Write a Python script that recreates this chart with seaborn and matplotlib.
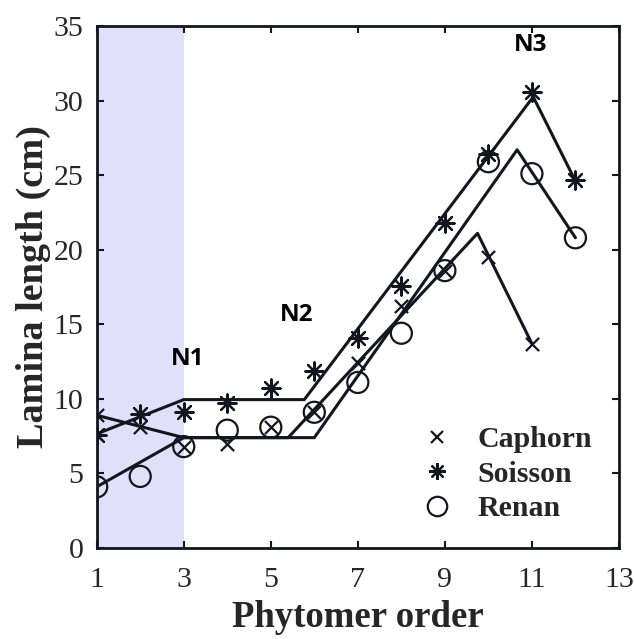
import numpy as np
import pandas as pd
import matplotlib
matplotlib.use('Agg')
import matplotlib.pyplot as plt
from matplotlib.lines import Line2D
import seaborn as sns

# phytomer ranks
phytomer = [1, 2, 3, 4, 5, 6, 7, 8, 9, 10, 11, 12]

# measured lamina lengths (cm)
caphorn = [8.9, 8.1, 6.8, 7.0, 8.1, 9.1, 12.4, 16.2, 18.6, 19.5, 13.7]
soisson = [7.6, 9.0, 9.1, 9.7, 10.7, 11.9, 14.1, 17.6, 21.8, 26.4, 30.6, 24.7]
renan = [4.1, 4.8, 6.8, 7.9, 8.1, 9.1, 11.1, 14.4, 18.6, 25.9, 25.1, 20.8]

# piecewise linear fits (breakpoints)
caphorn_fit_x = [1, 3, 5.4, 9.75, 11]
caphorn_fit_y = [8.9, 7.4, 7.4, 21.1, 13.7]
soisson_fit_x = [1, 3, 5.77, 11.03, 12]
soisson_fit_y = [7.65, 9.95, 9.95, 30.25, 24.6]
renan_fit_x = [1, 3, 6.0, 10.66, 12]
renan_fit_y = [4.1, 7.4, 7.4, 26.7, 20.8]

# phase labels
phase_labels = ['N1', 'N2', 'N3']
phase_x = [3.08, 5.6, 10.98]
phase_y = [12.7, 15.6, 33.7]

sns.set_theme(style='ticks')
plt.rcParams['font.family'] = ['Liberation Serif', 'DejaVu Serif']
plt.rcParams['xtick.direction'] = 'in'
plt.rcParams['ytick.direction'] = 'in'

ink = '#15151f'
fig = plt.figure(figsize=(6.34, 6.39), dpi=100)
ax = fig.add_axes([0.1525, 0.1424, 0.8238, 0.8169])

ax.axvspan(1, 3, color='#e0e0fa', lw=0, zorder=0)

fits = pd.concat([
    pd.DataFrame({'x': caphorn_fit_x, 'y': caphorn_fit_y, 'cv': 'Caphorn'}),
    pd.DataFrame({'x': soisson_fit_x, 'y': soisson_fit_y, 'cv': 'Soisson'}),
    pd.DataFrame({'x': renan_fit_x, 'y': renan_fit_y, 'cv': 'Renan'}),
])
sns.lineplot(data=fits, x='x', y='y', units='cv', estimator=None, sort=False,
             color=ink, lw=2.2, ax=ax, legend=False)

star = (8, 2, 0)
sns.scatterplot(x=phytomer[:len(caphorn)], y=caphorn, marker='x', s=90,
                color=ink, linewidth=1.6, ax=ax, zorder=3)
sns.scatterplot(x=phytomer, y=soisson, marker=star, s=170,
                color=ink, edgecolor=ink, linewidth=1.6, ax=ax, zorder=3)
sns.scatterplot(x=phytomer, y=renan, marker='o', s=230, facecolor='none',
                edgecolor=ink, linewidth=1.6, ax=ax, zorder=3)

for lab, px, py in zip(phase_labels, phase_x, phase_y):
    ax.text(px, py, lab, ha='center', va='center', fontsize=17.5,
            fontweight='bold', family=['Open Sans', 'DejaVu Sans'], color='black')

ax.set_xlim(1, 13)
ax.set_ylim(0, 35)
ax.set_xticks(np.arange(1, 14, 2))
ax.set_yticks(np.arange(0, 36, 5))
ax.tick_params(axis='both', which='both', top=True, right=True, length=5,
               width=1.5, color=ink, labelsize=21.5)
ax.tick_params(axis='x', pad=14)
ax.tick_params(axis='y', pad=9.5)
for sp in ax.spines.values():
    sp.set_color(ink)
    sp.set_linewidth(2)
    sp.set_visible(True)

ax.set_xlabel('Phytomer order', fontsize=26.5, fontweight='bold', labelpad=5)
ax.set_ylabel('Lamina length (cm)', fontsize=27.5, fontweight='bold', labelpad=2)

handles = [
    Line2D([], [], ls='none', marker='x', ms=9, mew=1.6, color=ink),
    Line2D([], [], ls='none', marker=star, ms=12, mew=1.6, color=ink),
    Line2D([], [], ls='none', marker='o', ms=14, mew=1.6, mfc='none', color=ink),
]
ax.legend(handles, ['Caphorn', 'Soisson', 'Renan'], loc='upper left',
          bbox_to_anchor=(0.5425, 0.2845), frameon=False, handletextpad=0.37,
          labelspacing=0.25, prop={'size': 21.5, 'weight': 'bold'})

fig.savefig('out.png', dpi=100)
